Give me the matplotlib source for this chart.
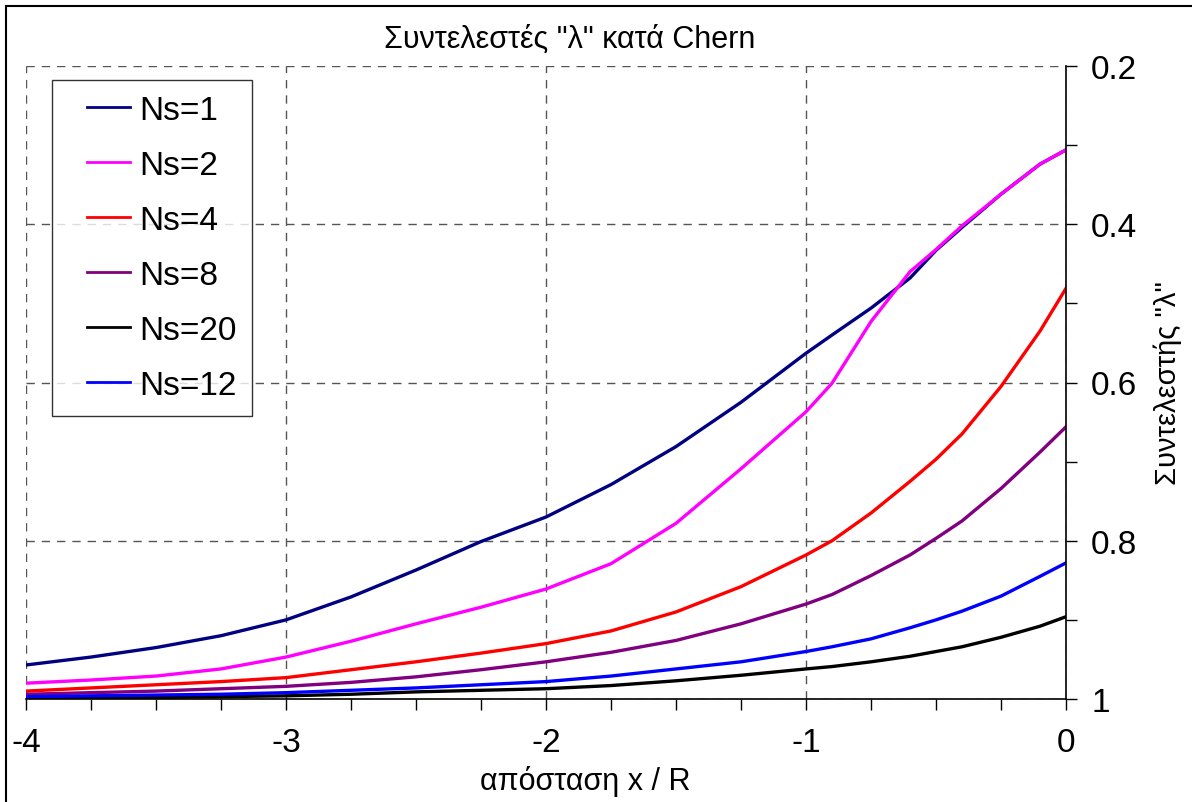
import matplotlib
matplotlib.use("Agg")
import matplotlib.pyplot as plt
from matplotlib.patches import Rectangle
from matplotlib.ticker import MultipleLocator

plt.rcParams["font.family"] = ["Liberation Sans", "DejaVu Sans"]
plt.rcParams["axes.unicode_minus"] = False

x = [-4.0, -3.75, -3.5, -3.25, -3.0, -2.75, -2.5, -2.25, -2.0, -1.75,
     -1.5, -1.25, -1.0, -0.9, -0.75, -0.6, -0.5, -0.4, -0.25, -0.1, 0.0]

ns1 = [0.957, 0.947, 0.935, 0.920, 0.900, 0.871, 0.837, 0.801, 0.770, 0.729,
       0.681, 0.625, 0.563, 0.540, 0.506, 0.468, 0.433, 0.404, 0.362, 0.324, 0.306]
ns2 = [0.980, 0.976, 0.971, 0.962, 0.947, 0.927, 0.905, 0.884, 0.861, 0.829,
       0.778, 0.709, 0.637, 0.601, 0.523, 0.460, 0.432, 0.402, 0.362, 0.324, 0.306]
ns4 = [0.990, 0.986, 0.982, 0.978, 0.973, 0.963, 0.953, 0.942, 0.930, 0.914,
       0.890, 0.858, 0.818, 0.800, 0.765, 0.725, 0.697, 0.665, 0.605, 0.535, 0.481]
ns8 = [0.994, 0.992, 0.990, 0.987, 0.984, 0.979, 0.972, 0.963, 0.953, 0.941,
       0.926, 0.905, 0.880, 0.868, 0.844, 0.818, 0.797, 0.775, 0.734, 0.688, 0.656]
ns20 = [0.999, 0.998, 0.998, 0.997, 0.996, 0.994, 0.991, 0.989, 0.987, 0.983,
        0.977, 0.970, 0.962, 0.959, 0.953, 0.946, 0.940, 0.934, 0.922, 0.908, 0.896]
ns12 = [0.997, 0.996, 0.995, 0.994, 0.992, 0.989, 0.986, 0.982, 0.978, 0.971,
        0.962, 0.953, 0.940, 0.934, 0.924, 0.910, 0.900, 0.889, 0.870, 0.845, 0.828]

series = [
    ("Ns=1", ns1, "#000080"),
    ("Ns=2", ns2, "#ff00ff"),
    ("Ns=4", ns4, "#ff0000"),
    ("Ns=8", ns8, "#800080"),
    ("Ns=20", ns20, "#000000"),
    ("Ns=12", ns12, "#0000ff"),
]

fig = plt.figure(figsize=(11.92, 8.03), dpi=100)
ax = fig.add_axes([26 / 1192, 1 - 700 / 803, (1066 - 26) / 1192, (700 - 67) / 803])

for label, vals, color in series:
    ax.plot(x, vals, color=color, lw=2.4, label=label)

ax.set_xlim(-4, 0)
ax.set_ylim(1, 0.2)
ax.yaxis.tick_right()
ax.yaxis.set_label_position("right")
ax.xaxis.set_major_locator(MultipleLocator(1))
ax.xaxis.set_minor_locator(MultipleLocator(0.25))
ax.yaxis.set_minor_locator(MultipleLocator(0.1))
ax.set_yticks([0.2, 0.4, 0.6, 0.8, 1.0])
ax.set_yticklabels(["0.2", "0.4", "0.6", "0.8", "1"])
ax.tick_params(axis="both", which="both", direction="out", length=8, width=1, labelsize=24)
ax.tick_params(axis="x", pad=12)
ax.tick_params(axis="y", pad=10)

ax.grid(True, which="major", color="#555555", ls=(0, (6, 5)), lw=1)
for side in ("left", "top"):
    ax.spines[side].set_visible(False)
for side in ("right", "bottom"):
    ax.spines[side].set_linewidth(1.2)

ax.set_xlabel("απόσταση x / R", fontsize=22, labelpad=0)
ax.xaxis.set_label_coords(0.538, -0.105)
ax.set_ylabel('Συντελεστής "λ"', fontsize=21, rotation=90, labelpad=12)
ax.set_title('Συντελεστές "λ" κατά Chern', fontsize=22, pad=14, x=0.523)

leg = ax.legend(loc="upper left", bbox_to_anchor=(0.025, 0.978), borderaxespad=0,
                fontsize=24, frameon=True, fancybox=False, edgecolor="black",
                handlelength=1.9, handletextpad=0.27, labelspacing=0.72,
                borderpad=0.45)
leg.get_frame().set_linewidth(1)
# short handle lines sitting right next to the labels, as in the original
for line in leg.get_lines():
    line.set_linewidth(2)
    xd = line.get_xdata()
    yd = line.get_ydata()
    x0, x1 = min(xd), max(xd)
    line.set_data([x0 + (x1 - x0) * 0.32, x1], [yd[0], yd[0]])

fig.patches.append(Rectangle((6 / 1192, -0.01), 1.02, 1 - 7 / 803 + 0.01,
                             transform=fig.transFigure, fill=False,
                             edgecolor="black", lw=1.5))

fig.savefig("out.png", dpi=100)
